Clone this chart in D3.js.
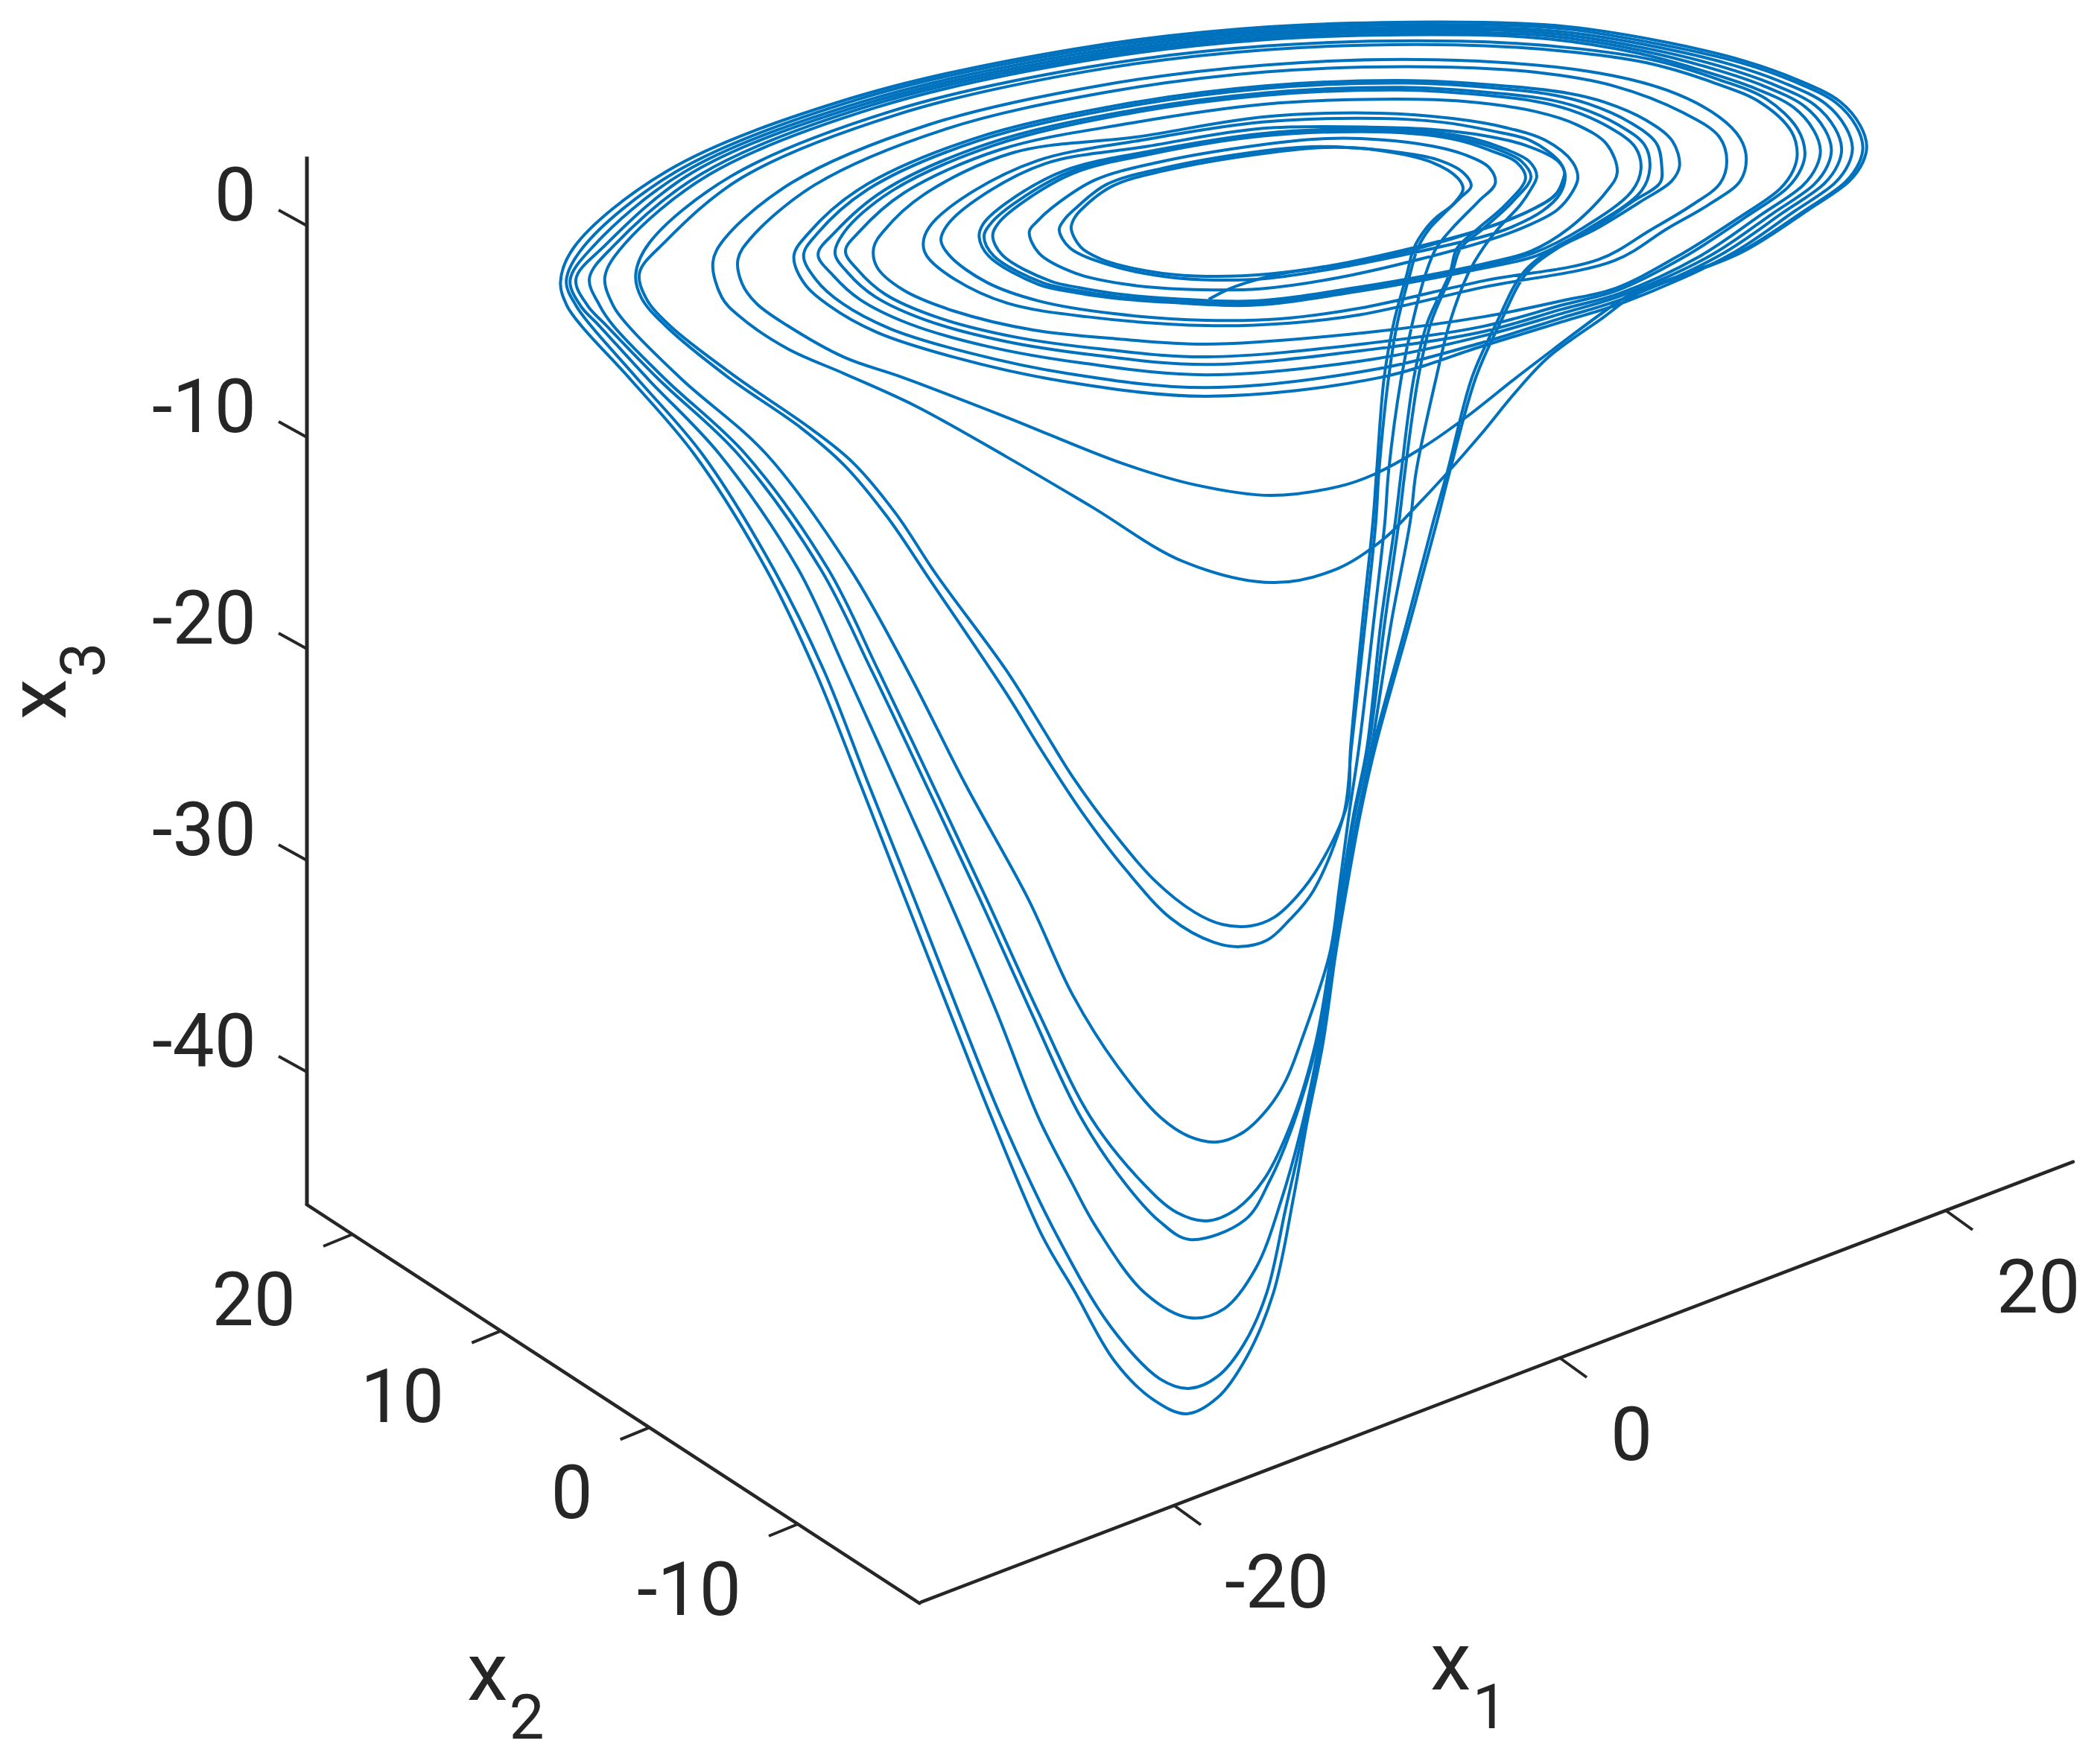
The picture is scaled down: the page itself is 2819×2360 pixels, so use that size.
<!DOCTYPE html>
<html>
<head>
<meta charset="utf-8">
<style>
  html, body { margin: 0; background: #fff; }
  text { font-family: Roboto, sans-serif; fill: #262626; }
</style>
</head>
<body>
<div id="chart"></div>
<script src="https://cdn.jsdelivr.net/npm/d3@7"></script>
<script>
// tick labels
var x1Ticks = [-20, 0, 20];
var x2Ticks = [-10, 0, 10, 20];
var x3Ticks = [-40, -30, -20, -10, 0];

// ends of the three axes, in axis units
var x1Lim = [-33.1, 26.6];
var x2Lim = [23.07, -18.2];
var x3Lim = [3.27, -46.3];

// trajectory as seen in this view: [x1 reading, x3 reading]
// top half of each turn, right extreme -> over the top -> left extreme
var topArcs = [
  [[15.9,3.77],[15.56,4.75],[14.5,5.88],[12.3,6.9],[9.6,7.78],[5.56,8.66],[0.46,9.4],[-3.94,9.61],[-15.1,9.4],[-25.2,8.35],[-36.76,6.02],[-46.25,2.6],[-51.1,-1.02],[-51.8,-2.68]],
  [[15.7,3.73],[15.36,4.7],[14.3,5.82],[12.1,6.83],[9.4,7.7],[5.26,8.56],[0.3,9.3],[-4.1,9.49],[-15.1,9.28],[-25.1,8.24],[-36.5,5.94],[-45.8,2.56],[-50.6,-0.99],[-51.5,-2.63]],
  [[15.16,3.69],[14.82,4.65],[13.76,5.77],[11.56,6.77],[8.86,7.62],[4.96,8.46],[0.1,9.17],[-4.26,9.37],[-15.12,9.16],[-25,8.12],[-36.2,5.85],[-45.4,2.53],[-50.1,-0.97],[-51.3,-2.58]],
  [[14.6,3.65],[14.26,4.6],[13.2,5.71],[11,6.7],[8.3,7.54],[4.67,8.35],[-0.1,9.06],[-4.43,9.26],[-15.12,9.04],[-24.9,8],[-35.95,5.77],[-45,2.49],[-49.5,-0.94],[-51,-2.53]],
  [[14.07,3.61],[13.73,4.55],[12.67,5.65],[10.47,6.64],[7.77,7.46],[4.37,8.25],[-0.3,8.94],[-4.59,9.14],[-15.13,8.92],[-24.8,7.89],[-35.7,5.69],[-44.5,2.45],[-49,-0.91],[-50.3,-2.48]],
  [[13.5,3.57],[13.16,4.5],[12.1,5.6],[9.9,6.57],[7.2,7.38],[4.07,8.15],[-0.5,8.82],[-4.75,9.02],[-15.14,8.8],[-24.7,7.78],[-35.4,5.6],[-44.1,2.41],[-48.5,-0.89],[-49.5,-2.43]],
  [[12.7,3.46],[12.3,4.6],[10.7,5.99],[8.26,6.9],[4.75,7.85],[0.39,8.42],[-5.16,8.72],[-15.16,8.5],[-24.5,7.49],[-34.7,5.4],[-43,2.32],[-47.2,-0.82],[-47.9,-2.3]],
  [[12.3,3.4],[12,4.45],[10.4,5.82],[8,6.75],[4.5,7.7],[0.2,8.25],[-5.4,8.55],[-15.17,8.32],[-24.35,7.32],[-34.3,5.27],[-42.4,2.27],[-46.4,-0.78],[-47.7,-2.22]],
  [[9.66,3.16],[9.35,4.12],[8.26,5.14],[5.56,6.4],[1.47,7.3],[-6.37,7.84],[-15.22,7.6],[-23.8,6.63],[-32.7,4.78],[-39.8,2.04],[-43.3,-0.62],[-43.9,-1.73]],
  [[8.65,3.05],[8.26,4.2],[6.37,5.35],[2.82,6.6],[-1.24,7.25],[-6.82,7.51],[-15.24,7.27],[-23.5,6.31],[-31.9,4.55],[-38.6,1.94],[-41.9,-0.55],[-42.6,-1.58]],
  [[6.2,2.82],[5.83,4],[4.44,5],[2.28,5.85],[0.39,6.27],[-3.4,6.65],[-7.71,6.86],[-15.29,6.61],[-23,5.68],[-30.45,4.09],[-36.3,1.74],[-39,-0.41],[-39.7,-1.41]],
  [[5.28,2.78],[5,3.9],[3.6,4.9],[1.5,5.75],[-0.3,6.17],[-3.9,6.55],[-7.87,6.74],[-15.29,6.49],[-22.9,5.56],[-30.2,4],[-35.9,1.7],[-38.5,-0.38],[-39.2,-1.4]],
  [[4.66,2.71],[4.4,3.8],[3,4.78],[0.95,5.6],[-0.8,6],[-4.3,6.35],[-8.16,6.54],[-15.31,6.28],[-22.76,5.36],[-29.7,3.86],[-35.1,1.63],[-37.6,-0.33],[-38.45,-1.36]],
  [[4.2,2.67],[3.9,3.72],[2.5,4.68],[0.5,5.48],[-1.3,5.88],[-4.7,6.24],[-8.32,6.42],[-15.32,6.16],[-22.66,5.25],[-29.4,3.78],[-34.7,1.6],[-37.1,-0.31],[-37.57,-1.31]],
  [[2.97,2.51],[2.43,3.85],[0.93,4.75],[-1.24,5.39],[-5,5.88],[-9.34,5.98],[-15.35,5.74],[-22.3,4.84],[-29,3.6],[-34,1.55],[-36.3,-0.27],[-37.03,-1.2]],
  [[0.93,2.25],[0.66,3],[-0.7,4.01],[-2.86,4.65],[-5.56,5.07],[-9.34,5.32],[-15.4,5.14],[-21.9,4.2],[-28.35,3.45],[-33,1.45],[-35,-0.2],[-35.56,-1.02]],
  [[0.27,2.36],[0,3],[-1.5,4.01],[-3.67,4.51],[-6.1,4.89],[-9.34,5.07],[-15.4,4.9],[-21.7,4.04],[-27.1,3.07],[-31,1.28],[-32.7,-0.08],[-33,-0.85]],
  [[0.25,2.45],[-0.1,3.05],[-1.78,3.8],[-3.94,4.26],[-6.64,4.55],[-9.34,4.65],[-15.4,4.6],[-21.4,3.75],[-26.7,2.93],[-30.3,1.2],[-31.8,-0.03],[-32.08,-0.7]],
  [[-1.2,2.35],[-1.6,3.05],[-2.86,3.63],[-4.5,4.12],[-6.64,4.44],[-9.34,4.58],[-15.4,4.36],[-21.25,3.52],[-25.64,2.62],[-28.7,1.07],[-29.9,0.07],[-30.1,-0.53]],
  [[-1.5,2.3],[-2,3.05],[-3.15,3.58],[-4.8,4.05],[-6.64,4.37],[-9.34,4.51],[-15.4,4.3],[-21.2,3.46],[-25.4,2.55],[-28.3,1.04],[-29.5,0.1],[-29.85,-0.5]],
  [[-1.78,2.25],[-2.25,3],[-3.45,3.5],[-5.1,4],[-7,4.3],[-9.34,4.44],[-15.4,4.24],[-21.15,3.4],[-25.2,2.49],[-28,1],[-29.1,0.12],[-29.4,-0.46]],
  [[-3.35,2],[-3.67,2.75],[-5,3.38],[-6.64,3.77],[-9.34,4.07],[-12.05,4.12],[-15.5,3.82],[-20.8,3],[-24.1,2.16],[-26.3,0.87],[-27.1,0.2],[-27.5,-0.28]],
  [[-4.6,1.87],[-5,2.5],[-6.37,3.13],[-8.5,3.49],[-11,3.7],[-12.85,3.73],[-15.5,3.52],[-20.6,2.71],[-23.5,1.95],[-25.15,0.78],[-25.7,0.27],[-25.95,-0.19]],
  [[-5.02,1.73],[-5.29,2.25],[-6.64,3],[-9.34,3.56],[-12.05,3.7],[-15.5,3.4],[-20.5,2.6],[-23.2,1.87],[-24.83,0.74],[-25.2,0.3],[-25.33,-0.14]]
];

// the deep dips: left extreme -> down to the lowest point (turns 0 to 7)
var plungeArcs = [
  [[-51.47,-3.77],[-50.73,-4.72],[-48.15,-7.29],[-44.86,-10.81],[-41.16,-16.2],[-38.61,-21.02],[-36.25,-26.41],[-33.94,-31.8],[-31.62,-37.18],[-29.46,-42.15],[-26.83,-47.75],[-25.17,-50.35],[-23.09,-53.66],[-21.08,-55.49],[-19.34,-56.16]],
  [[-51,-3.77],[-50.23,-4.72],[-47.76,-7.29],[-44.44,-10.81],[-40.77,-16.2],[-38.15,-21.02],[-35.83,-26.41],[-33.47,-31.8],[-31.16,-37.18],[-28.96,-42.15],[-26.06,-47.75],[-23.28,-52.04],[-20.73,-54.51],[-19.19,-54.96]],
  [[-50.77,-3.77],[-49.8,-4.72],[-47.22,-7.29],[-43.55,-10.81],[-39.5,-16.2],[-37.03,-21.02],[-34.36,-26.41],[-31.7,-31.8],[-29.19,-37.18],[-27.03,-42.15],[-25.29,-45.25],[-24.05,-47.32],[-21.5,-50.46],[-19.19,-51.62]],
  [[-50.4,-3.77],[-49.42,-4.72],[-46.68,-7.29],[-42.59,-10.81],[-38.34,-16.2],[-35.68,-21.02],[-32.86,-26.41],[-30.08,-31.8],[-27.41,-37.18],[-24.83,-42.15],[-22.51,-45.3],[-20.73,-47.08],[-19.19,-47.92]],
  [[-49.77,-3.77],[-49.07,-4.72],[-46.33,-7.29],[-42.2,-10.81],[-37.95,-16.2],[-35.33,-21.02],[-32.51,-26.41],[-29.73,-31.8],[-27.03,-37.18],[-24.32,-42.15],[-21.62,-45.25],[-19.85,-46.65],[-18.3,-47.04]],
  [[-49.07,-3.77],[-48.3,-4.72],[-45.48,-7.29],[-41.12,-10.81],[-36.8,-16.2],[-33.82,-21.02],[-30.81,-26.41],[-27.57,-31.8],[-25.25,-36.37],[-22.97,-39.68],[-20.7,-42.15],[-19.19,-43.06],[-17.76,-43.31]],
  [[-47.6,-3.42],[-46.37,-4.72],[-43.13,-7.15],[-39.3,-9.58],[-37.07,-11.34],[-34.86,-13.77],[-32.66,-16.73],[-28.69,-22.11],[-26.83,-24.86],[-24.75,-27.75],[-22.55,-30.39],[-20.15,-32.75],[-17.95,-33.87],[-16.6,-34.08]],
  [[-47.37,-3.42],[-46.14,-4.72],[-42.7,-7.15],[-38.84,-9.58],[-36.64,-11.2],[-34.4,-13.63],[-32.36,-16.44],[-28.69,-21.02],[-26.83,-23.73],[-25.25,-26.06],[-23.13,-28.7],[-21.04,-30.92],[-18.92,-32.46],[-17.49,-33.03],[-16.02,-33.1]]
];

// climb back from each lowest point to the right side of the next turn
var riseArcs = [
  [[-17.75,-55.4],[-16.25,-53.5],[-14.85,-50.45],[-13.8,-45.9],[-13.1,-42.35],[-12.28,-38.63],[-11.62,-34.4],[-11.04,-31.27],[-10.35,-27.82],[-9.58,-24.68],[-7.76,-18.7],[-6.37,-13.98],[-5.71,-11.62],[-4.36,-7.18],[-3.09,-4.58],[-1.74,-2.25],[-0.12,-1.06],[1.89,-0.14],[4.17,1.13],[5.79,2.11],[6.2,2.82]],
  [[-17.75,-54.4],[-16.4,-52.9],[-15.2,-50.45],[-14.2,-46.4],[-13.2,-42.35],[-12.39,-38.63],[-11.7,-34.4],[-11.12,-31.27],[-10.42,-27.82],[-9.69,-24.68],[-7.92,-18.7],[-6.56,-13.98],[-5.83,-11.62],[-4.56,-7.18],[-3.28,-4.58],[-1.93,-2.25],[-0.31,-1.06],[1.7,-0.14],[3.75,1.13],[5.2,2.04],[5.28,2.78]],
  [[-17.41,-51.2],[-15.75,-49.26],[-14.44,-46.06],[-13.32,-42.36],[-12.47,-38.63],[-11.7,-34.4],[-11.16,-31.27],[-10.46,-27.82],[-9.77,-24.68],[-8.73,-18.7],[-7.76,-13.98],[-7.45,-11.62],[-6.41,-7.18],[-5.71,-4.58],[-4.75,-2.25],[-3.98,-1.06],[-3.2,-0.14],[-2.05,0.99],[-1.5,1.73],[-1.2,2.35]],
  [[-16.33,-47],[-15,-45.07],[-13.78,-42.36],[-12.59,-38.63],[-11.78,-34.4],[-11.24,-31.27],[-10.62,-27.82],[-9.92,-24.68],[-9.07,-18.7],[-8.34,-13.98],[-8.03,-11.62],[-7.34,-7.18],[-6.68,-4.58],[-5.6,-2.25],[-5.14,-1.06],[-3.98,-0.14],[-2.43,1.16],[-1.5,2.3]],
  [[-16.76,-46.48],[-15.33,-45.07],[-13.9,-42.36],[-12.66,-38.63],[-11.85,-34.4],[-11.31,-31.27],[-10.69,-27.82],[-10,-24.68],[-9.27,-18.7],[-8.53,-13.98],[-8.22,-11.62],[-7.57,-7.18],[-6.87,-4.58],[-5.71,-2.25],[-5.33,-1.06],[-4.25,-0.14],[-2.82,0.99],[-1.78,2.25]],
  [[-16.41,-42.85],[-15.1,-41.69],[-14.2,-40.39],[-13.44,-38.63],[-11.93,-34.4],[-11.43,-31.27],[-10.93,-27.82],[-10.42,-24.68],[-9.65,-18.7],[-9.07,-13.98],[-8.88,-11.62],[-8.22,-7.18],[-7.64,-4.58],[-6.95,-2.25],[-6.41,-1.06],[-5.6,-0.14],[-4.21,1.16],[-3.35,2]],
  [[-15.17,-33.77],[-14.05,-32.85],[-12.78,-31.44],[-11.2,-27.82],[-10.81,-24.68],[-10.08,-18.7],[-9.54,-13.98],[-9.38,-11.62],[-8.88,-7.18],[-8.42,-4.58],[-7.76,-2.25],[-7.37,-1.06],[-6.76,-0.14],[-6.1,0.49],[-5.14,1.34],[-4.6,1.87]],
  [[-14.79,-32.68],[-13.59,-31.66],[-12.47,-30.25],[-11.04,-27.39],[-10.85,-24.68],[-10.23,-18.7],[-9.69,-13.98],[-9.5,-11.62],[-9.11,-7.18],[-8.61,-4.58],[-7.92,-2.25],[-7.57,-1.06],[-6.95,-0.14],[-6.37,0.42],[-5.56,0.99],[-5.02,1.73]]
];

// the two shallow dips (turns 8 and 9), they run on to the outer rim
var shallowArcs = [
  [[-43.44,-3.38],[-42.55,-4.26],[-40.04,-5.81],[-37.07,-7],[-33.4,-8.52],[-28.69,-10.92],[-24.3,-13.27],[-19.5,-15.88],[-14.87,-16.87],[-11.5,-16.2],[-9.11,-14.79],[-7.57,-13.38],[-5.91,-11.76],[-4.09,-9.86],[-2.32,-7.89],[-0.62,-6.23],[2.2,-4.37],[3.9,-3.27],[9.4,-1.27],[12.86,0.74],[15,2.11],[15.7,3],[15.9,3.77]],
  [[-42.4,-2.71],[-41.66,-3.66],[-40.04,-4.72],[-37.07,-6.23],[-34.13,-7.15],[-28.69,-9.05],[-22.7,-11.23],[-18.9,-12.25],[-15,-12.75],[-11.43,-12.32],[-9.65,-11.76],[-7.07,-10.46],[-4.86,-9.05],[-2.32,-7.22],[-0.39,-5.88],[2.2,-4.12],[3.63,-3.27],[9.2,-1.3],[12.66,0.7],[14.8,2.07],[15.5,2.96],[15.7,3.73]]
];

// bottom half of the turns that stay on the disc (turns 10 to 23)
var bottomArcs = [
  [[-39.2,-2.68],[-37.84,-3.8],[-35.4,-5.04],[-31.35,-6.23],[-25.95,-7.32],[-18.34,-8.06],[-9.34,-7.18],[-3.94,-5.67],[0.12,-4.54],[3.4,-3.6],[8.86,-1.35],[12.12,0.66],[14.26,2.03],[14.96,2.92],[15.16,3.69]],
  [[-38.55,-2.56],[-37.2,-3.67],[-34.71,-4.87],[-30.66,-6],[-25.43,-7],[-18.34,-7.65],[-9.46,-6.77],[-3.94,-5.5],[0.12,-4.35],[3.3,-3.45],[8.3,-1.39],[11.56,0.62],[13.7,1.99],[14.4,2.88],[14.6,3.65]],
  [[-37.64,-2.38],[-36.29,-3.48],[-33.74,-4.63],[-29.69,-5.7],[-24.7,-6.5],[-18.34,-7.05],[-9.63,-6.3],[-3.94,-5.2],[0.1,-4.15],[3.2,-3.3],[7.77,-1.43],[11.03,0.58],[13.17,1.95],[13.87,2.84],[14.07,3.61]],
  [[-36.9,-2.23],[-35.53,-3.33],[-32.93,-4.44],[-28.88,-5.44],[-24.09,-6.12],[-18.34,-6.56],[-9.78,-5.85],[-3.94,-5],[0.1,-3.95],[3.1,-3.2],[7.2,-1.47],[10.46,0.54],[12.6,1.91],[13.3,2.8],[13.5,3.57]],
  [[-36.35,-2.13],[-35,-3.22],[-32.36,-4.3],[-28.3,-5.25],[-23.66,-5.84],[-18.34,-6.2],[-9.86,-5.55],[-3.94,-4.75],[0.1,-3.75],[3,-3.05],[6.4,-1.5],[9.66,0.43],[11.8,1.8],[12.5,2.69],[12.7,3.46]],
  [[-35.4,-1.95],[-34.05,-3.03],[-31.35,-4.05],[-27.3,-4.93],[-22.9,-5.35],[-18.34,-5.6],[-10.05,-5.05],[-3.94,-4.3],[0.1,-3.55],[2.9,-2.95],[6,-1.5],[9.26,0.37],[11.4,1.74],[12.1,2.63],[12.3,3.4]],
  [[-32.8,-1.45],[-31.35,-2.54],[-28.65,-3.66],[-24.55,-4.3],[-18.34,-4.72],[-14,-4.6],[-10.3,-4.2],[-3.94,-2.9],[2.82,-1.65],[5.56,-0.14],[7.72,1],[9.34,2.11],[9.66,3.16]],
  [[-31.6,-1.45],[-29.7,-2.68],[-27,-3.56],[-23.2,-4.15],[-18.34,-4.47],[-14.5,-4.4],[-10.38,-3.9],[-3.94,-2.6],[2,-1.6],[4.7,-0.2],[6.8,0.95],[8.3,2],[8.65,3.05]],
  [[-29.6,-1.44],[-27.03,-2.78],[-25.5,-3.1],[-23.2,-3.42],[-20.28,-3.62],[-15.98,-3.76],[-10.55,-3.12],[-3.94,-2],[-1.2,-1.41],[1.47,-0.14],[4.2,1.62],[4.66,2.71]],
  [[-29.35,-1.42],[-26.8,-2.7],[-25.3,-3.02],[-23,-3.35],[-20.17,-3.55],[-15.93,-3.67],[-10.58,-3.04],[-3.94,-1.9],[-1.4,-1.3],[1.2,-0.1],[3.7,1.6],[4.2,2.67]],
  [[-28.9,-1.39],[-26.4,-2.62],[-24.9,-2.93],[-22.7,-3.25],[-20.01,-3.45],[-15.87,-3.56],[-10.61,-2.93],[-3.94,-1.8],[-1.5,-1.2],[0.5,-0.1],[2.4,1.6],[2.97,2.51]],
  [[-27,-1.3],[-25.1,-2.25],[-22.66,-2.75],[-19.5,-3],[-15.52,-2.98],[-10.79,-2.33],[-3.94,-0.75],[-1.78,-0.04],[-0.15,0.74],[0.66,1.62],[0.93,2.25]],
  [[-25.4,-1.05],[-23.2,-1.9],[-20.9,-2.35],[-18.57,-2.55],[-15.27,-2.5],[-10.92,-1.89],[-3.94,-0.5],[-2.6,-0.1],[-0.9,0.7],[0,1.5],[0.27,2.36]],
  [[-24.83,-1.02],[-23.86,-1.55],[-22.66,-1.9],[-20.6,-2.25],[-18.34,-2.39],[-15.17,-2.29],[-10.97,-1.73],[-3.94,-0.14],[-1.5,0.74],[-0.2,1.5],[0.25,2.45]]
];

// which turn each turn runs into
var nextTurn = [10, 11, 18, 19, 20, 21, 22, 23, 0, 1, 2, 3, 4, 5, 6, 7, 8, 9, 12, 13, 14, 15, 16, 17];

// short piece where the trajectory starts
var startArc = [[-18.2,-3.48],[-17.25,-3.03],[-16.2,-2.68],[-14.55,-2.29],[-10.5,-1.73],[-7.7,-1.16],[-3.94,-0.14],[-1.5,0.74],[-0.2,1.5],[0.25,2.45]];

// svg dims
var svgWidth = 2819;
var svgHeight = 2360;

var svg = d3.select("#chart")
    .append("svg")
    .attr("width", svgWidth)
    .attr("height", svgHeight)
    .style("display", "block");

// axis scales, each axis runs along its own slanted line
var x1ScaleX = d3.scaleLinear().domain([-20, 20]).range([1576, 2612]);
var x1ScaleY = d3.scaleLinear().domain([-20, 20]).range([2021, 1625]);
var x2ScaleX = d3.scaleLinear().domain([-10, 20]).range([1071, 473]);
var x2ScaleY = d3.scaleLinear().domain([-10, 20]).range([2046, 1657]);
var x3ScaleY = d3.scaleLinear().domain([0, -40]).range([303, 1439]);
var x3Pos = 412;

var axisColor = "#262626";

// x3 axis
svg.append("line")
    .attr("x1", x3Pos).attr("x2", x3Pos)
    .attr("y1", x3ScaleY(x3Lim[0])).attr("y2", x3ScaleY(x3Lim[1]))
    .attr("stroke", axisColor).attr("stroke-width", 5);

// x2 axis
svg.append("line")
    .attr("x1", x2ScaleX(x2Lim[0])).attr("y1", x2ScaleY(x2Lim[0]))
    .attr("x2", x2ScaleX(x2Lim[1])).attr("y2", x2ScaleY(x2Lim[1]))
    .attr("stroke", axisColor).attr("stroke-width", 4.5).attr("stroke-linecap", "round");

// x1 axis
svg.append("line")
    .attr("x1", x1ScaleX(x1Lim[0])).attr("y1", x1ScaleY(x1Lim[0]))
    .attr("x2", x1ScaleX(x1Lim[1])).attr("y2", x1ScaleY(x1Lim[1]))
    .attr("stroke", axisColor).attr("stroke-width", 4.5).attr("stroke-linecap", "round");

// ticks
svg.selectAll(".tick3").data(x3Ticks).enter().append("line")
    .attr("x1", x3Pos).attr("y1", d => x3ScaleY(d))
    .attr("x2", x3Pos - 38).attr("y2", d => x3ScaleY(d) - 21)
    .attr("stroke", axisColor).attr("stroke-width", 4);

svg.selectAll(".tick2").data(x2Ticks).enter().append("line")
    .attr("x1", d => x2ScaleX(d)).attr("y1", d => x2ScaleY(d))
    .attr("x2", d => x2ScaleX(d) - 39).attr("y2", d => x2ScaleY(d) + 16)
    .attr("stroke", axisColor).attr("stroke-width", 4);

svg.selectAll(".tick1").data(x1Ticks).enter().append("line")
    .attr("x1", d => x1ScaleX(d)).attr("y1", d => x1ScaleY(d))
    .attr("x2", d => x1ScaleX(d) + 36).attr("y2", d => x1ScaleY(d) + 26)
    .attr("stroke", axisColor).attr("stroke-width", 4);

// tick labels
svg.selectAll(".label3").data(x3Ticks).enter().append("text")
    .attr("x", 344).attr("y", d => x3ScaleY(d) - 7)
    .attr("text-anchor", "end").attr("font-size", 100)
    .text(d => d);

svg.selectAll(".label2").data(x2Ticks).enter().append("text")
    .attr("x", d => x2ScaleX(d) - 76).attr("y", d => x2ScaleY(d) + 122)
    .attr("text-anchor", "end").attr("font-size", 100)
    .text(d => d);

svg.selectAll(".label1").data(x1Ticks).enter().append("text")
    .attr("x", d => x1ScaleX(d) + 68).attr("y", d => x1ScaleY(d) + 137)
    .attr("text-anchor", "start").attr("font-size", 100)
    .text(d => d);

// axis titles with subscripts
function axisTitle(sub, transform) {
    var t = svg.append("text")
        .attr("transform", transform)
        .attr("font-size", 110)
        .text("x");
    t.append("tspan")
        .attr("font-size", 84)
        .attr("dx", 2)
        .attr("dy", 52)
        .text(sub);
}
axisTitle("1", "translate(1920,2268)");
axisTitle("2", "translate(627,2282)");
axisTitle("3", "translate(88,966) rotate(-90)");

// trajectory, view readings go through plain linear scales
var viewX = d3.scaleLinear().domain([-20, 20]).range([1576, 2612]);
var viewY = d3.scaleLinear().domain([0, -40]).range([303, 1439]);

var openLine = d3.line()
    .x(d => viewX(d[0]))
    .y(d => viewY(d[1]))
    .curve(d3.curveCatmullRom.alpha(0.5));

var closedLine = d3.line()
    .x(d => viewX(d[0]))
    .y(d => viewY(d[1]))
    .curve(d3.curveCatmullRomClosed.alpha(0.5));

// one whole turn, without its last point since that is where the next turn starts
function turnPoints(i) {
    var rest;
    if (i < 8) rest = plungeArcs[i].concat(riseArcs[i]);
    else if (i < 10) rest = shallowArcs[i - 8];
    else rest = bottomArcs[i - 10];
    return topArcs[i].concat(rest.slice(0, -1));
}

// follow the turns round so the curve has no breaks at the joins
var seen = [];
var loops = [];
topArcs.forEach((arc, i) => {
    if (seen[i]) return;
    var pts = [];
    var j = i;
    while (!seen[j]) {
        seen[j] = true;
        pts = pts.concat(turnPoints(j));
        j = nextTurn[j];
    }
    loops.push(pts);
});

function drawCurve(d) {
    svg.append("path")
        .attr("d", d)
        .attr("fill", "none")
        .attr("stroke", "#0072BD")
        .attr("stroke-width", 4)
        .attr("stroke-linejoin", "round");
}

loops.forEach(pts => drawCurve(closedLine(pts)));
drawCurve(openLine(startArc));
</script>
</body>
</html>
